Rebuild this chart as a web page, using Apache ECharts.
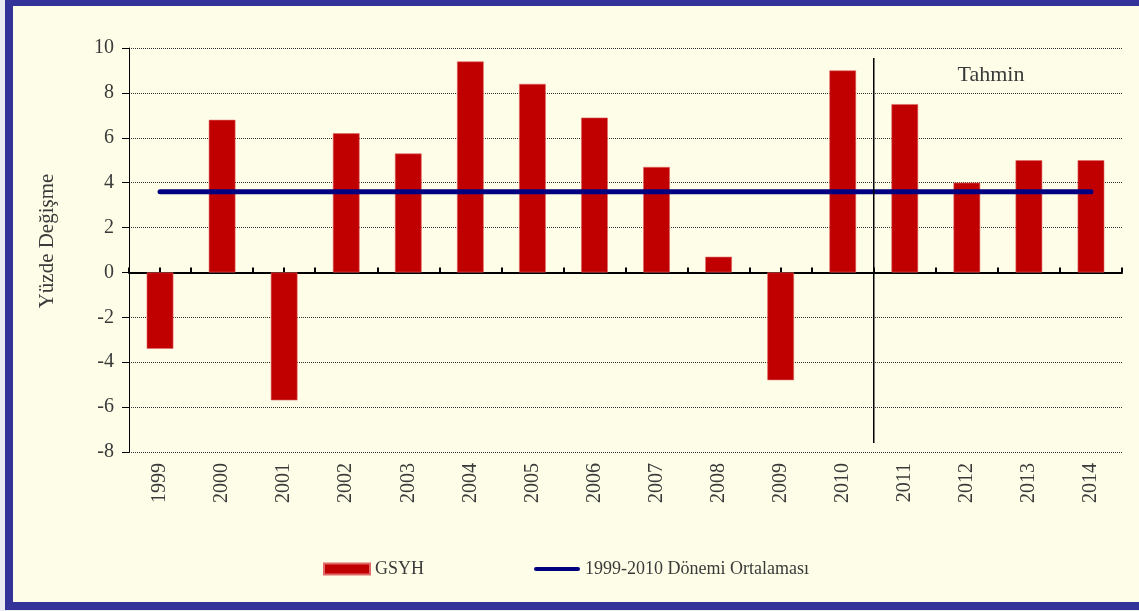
<!DOCTYPE html>
<html>
<head>
<meta charset="utf-8">
<script src="https://cdn.jsdelivr.net/npm/echarts@6/dist/echarts.min.js"></script>
<style>
  html, body { margin: 0; padding: 0; background: #ebebf2; }
  #frame {
    position: absolute; left: 5px; top: 0; width: 1133px; height: 596px;
    background: #fefee8;
    border-top: 6px solid #333399; border-left: 8px solid #333399; border-bottom: 8px solid #333399;
  }
  #chart { position: absolute; left: 0; top: 0; width: 1139px; height: 611px; }
</style>
</head>
<body>
<div id="frame"></div>
<div id="chart"></div>
<script>
const years = ['1999', '2000', '2001', '2002', '2003', '2004', '2005', '2006',
               '2007', '2008', '2009', '2010', '2011', '2012', '2013', '2014']
const gdpGrowth = [-3.4, 6.8, -5.7, 6.2, 5.3, 9.4, 8.4, 6.9, 4.7, 0.7, -4.8, 9.0, 7.5, 4.0, 5.0, 5.0]
const periodAverage = [3.6, 3.6, 3.6, 3.6, 3.6, 3.6, 3.6, 3.6, 3.6, 3.6, 3.6, 3.6, 3.6, 3.6, 3.6, 3.6]
// boundary between 2010 and 2011 (category index 12 on a 0..16 scale)
const forecastDivider = [[12, 9.55], [12, -7.6]]
const yTicks = { min: -8, max: 10, interval: 2 }

const FONT = 'Liberation Serif'
const C = { bar: '#c00000', avg: '#000080', text: '#3a3a3a', grid: '#333' }

const chart = echarts.init(document.getElementById('chart'), null, { renderer: 'canvas' })

chart.setOption({
  animation: false,
  textStyle: { fontFamily: FONT },
  grid: { left: 129, right: 17, top: 48, bottom: 159 },
  legend: {
    left: 318, top: 555,
    itemWidth: 46, itemHeight: 11, itemGap: 110,
    textStyle: { fontFamily: FONT, fontSize: 18, color: C.text },
    data: [
      { name: 'GSYH', icon: 'rect' },
      { name: '1999-2010 Dönemi Ortalaması',
        icon: 'path://M2,0 H44 A2,2 0 0 1 44,4 H2 A2,2 0 0 1 2,0 Z' },
    ],
  },
  graphic: [
    {
      type: 'text', x: 991, y: 75,
      style: { text: 'Tahmin', font: '22px "Liberation Serif"', fill: C.text,
               align: 'center', verticalAlign: 'middle' },
    },
    {
      type: 'text', x: 47, y: 241, rotation: Math.PI / 2,
      style: { text: 'Yüzde Değişme', font: '21px "Liberation Serif"', fill: C.text,
               align: 'center', verticalAlign: 'middle' },
    },
  ],
  xAxis: [
    {
      type: 'category', data: years, position: 'bottom',
      axisLine: { show: false, onZero: false }, axisTick: { show: false },
      axisLabel: { show: false },
    },
    {
      type: 'category', data: years, position: 'bottom',
      axisLine: { show: false, onZero: false }, axisTick: { show: false },
      axisLabel: { rotate: 90, margin: 11, fontSize: 20, color: C.text, fontFamily: FONT },
    },
    {
      type: 'value', min: 0, max: 16, interval: 0.5, position: 'bottom',
      axisLine: { show: true, onZero: true, lineStyle: { color: '#000', width: 2 } },
      axisTick: { show: true, inside: true, length: 5, lineStyle: { color: '#000', width: 2 } },
      axisLabel: { show: false },
      splitLine: { show: false },
    },
  ],
  yAxis: {
    type: 'value', ...yTicks,
    axisLine: { show: true, onZero: false, lineStyle: { color: '#000', width: 1 } },
    axisTick: { show: true, length: 7, lineStyle: { color: '#000' } },
    axisLabel: { fontSize: 20, color: C.text, fontFamily: FONT, margin: 15 },
    splitLine: { lineStyle: { color: C.grid, type: 'dotted', width: 1 } },
  },
  series: [
    {
      name: 'GSYH', type: 'bar', xAxisIndex: 0, data: gdpGrowth,
      barWidth: '43%',
      itemStyle: { color: C.bar, borderColor: '#e06868', borderWidth: 0.6 },
      z: 2,
    },
    {
      name: '1999-2010 Dönemi Ortalaması', type: 'line', xAxisIndex: 0, data: periodAverage,
      symbol: 'none', lineStyle: { color: C.avg, width: 5, cap: 'round' },
      itemStyle: { color: C.avg }, z: 4,
    },
    {
      name: 'divider', type: 'line', xAxisIndex: 2, data: forecastDivider,
      symbol: 'none', lineStyle: { color: '#000', width: 1.5 }, z: 5,
    },
  ],
})
</script>
</body>
</html>
